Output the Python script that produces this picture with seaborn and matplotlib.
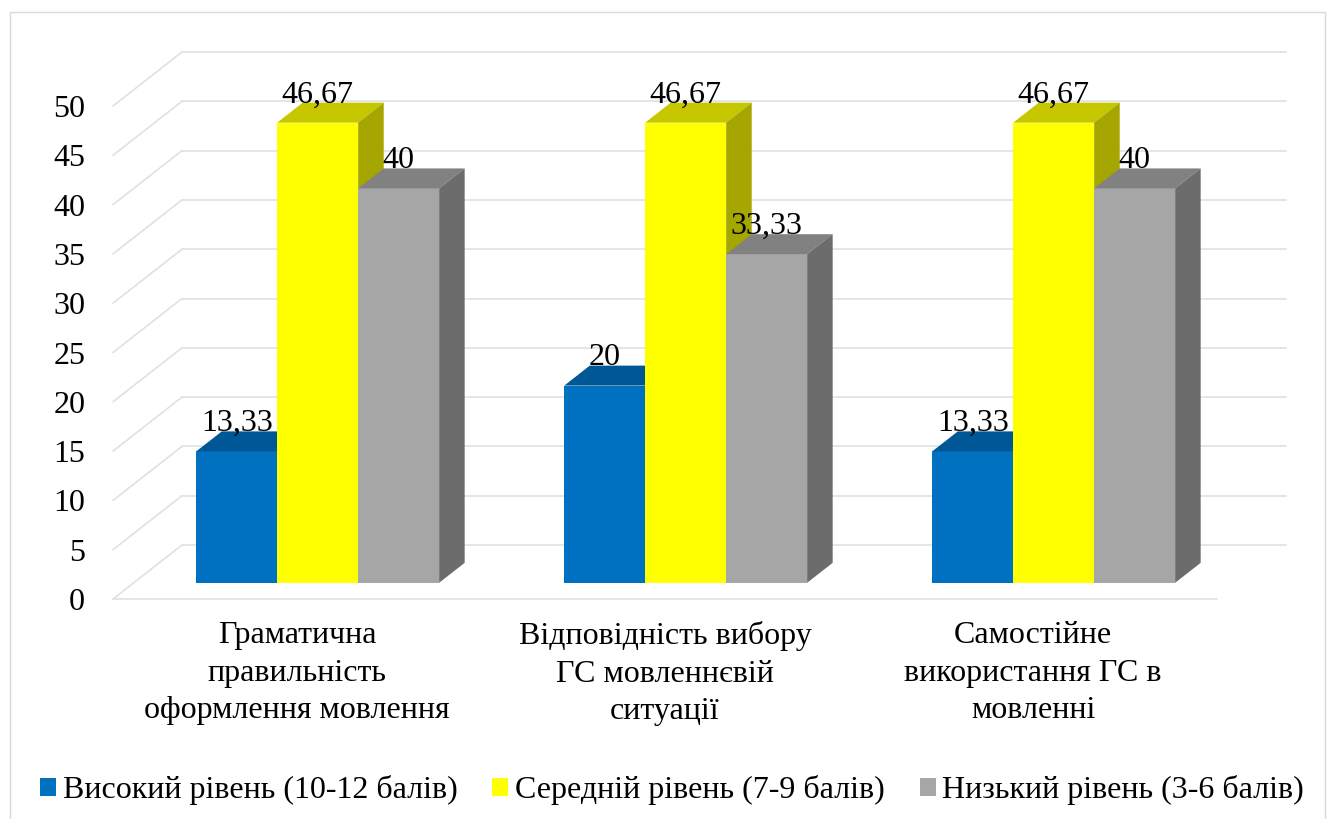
import numpy as np
import pandas as pd
import matplotlib
matplotlib.use('Agg')
import matplotlib.pyplot as plt
import seaborn as sns
from matplotlib.patches import Polygon, Rectangle
from matplotlib.colors import to_rgb

# chart data
categories = ['Граматична\nправильність\nоформлення мовлення',
              'Відповідність вибору\nГС мовленнєвій\nситуації',
              'Самостійне\nвикористання ГС в\nмовленні']
levels = ['Високий рівень (10-12 балів)', 'Середній рівень (7-9 балів)', 'Низький рівень (3-6 балів)']
high = [13.33, 20, 13.33]
mid = [46.67, 46.67, 46.67]
low = [40, 33.33, 40]
yticks = list(range(0, 55, 5))
colors = ['#0070C0', '#FFFF00', '#A6A6A6']

df = pd.DataFrame({
    'category': categories * 3,
    'level': np.repeat(levels, 3),
    'value': high + mid + low,
})

sns.set_theme(style='white')
plt.rcParams['font.family'] = ['Liberation Serif', 'DejaVu Serif']
plt.rcParams['text.color'] = 'black'
FS = 23
grid_c = '#dde1e8'

W, H = 1331, 819
fig = plt.figure(figsize=(W / 100, H / 100), dpi=100)
ax = fig.add_axes([113 / W, 220 / H, 1104 / W, 493 / H])

sns.barplot(data=df, x='category', y='value', hue='level', hue_order=levels,
            palette=colors, saturation=1, width=0.66, gap=0, linewidth=0,
            ax=ax, zorder=3)
ax.set_xlim(-0.5, 2.5)
ax.set_ylim(0, 50)

# pixel -> data conversion for the 3d depth
p0 = ax.transData.transform((0, 0))
p1 = ax.transData.transform((1, 1))
sx, sy = p1 - p0
DX, DY = 69 / sx, 54 / sy      # full depth of the floor
front_f, bar_f = 0.3, 0.37      # where the bars sit and how deep they are

# walls: left diagonals + back horizontal lines
for v in yticks:
    ax.plot([-0.5 + DX, 2.5 + DX], [v + DY, v + DY], color=grid_c, lw=1.2,
            clip_on=False, zorder=1)
    ax.plot([-0.5, -0.5 + DX], [v, v + DY], color=grid_c, lw=1.2,
            clip_on=False, zorder=1)
ax.plot([-0.5, 2.5], [0, 0], color=grid_c, lw=1.2, clip_on=False, zorder=1)

# turn flat bars into boxes (skip seaborn's empty placeholder patches)
bars = sorted([p for p in ax.patches if p.get_height() > 0 and p.get_width() > 0],
              key=lambda p: p.get_x())
bdx, bdy = bar_f * DX, bar_f * DY
for i, p in enumerate(bars):
    x0 = p.get_x() + front_f * DX
    y0 = front_f * DY
    h = p.get_height()
    w = p.get_width()
    p.set_xy((x0, y0))
    p.set_clip_on(False)
    z = 3 + i * 0.1
    p.set_zorder(z)
    x1, yt = x0 + w, y0 + h
    c = np.array(to_rgb(p.get_facecolor()))
    top = Polygon([(x0, yt), (x1, yt), (x1 + bdx, yt + bdy), (x0 + bdx, yt + bdy)],
                  closed=True, facecolor=c * 0.78, edgecolor='none', zorder=z + 0.01, clip_on=False)
    side = Polygon([(x1, y0), (x1, yt), (x1 + bdx, yt + bdy), (x1 + bdx, y0 + bdy)],
                   closed=True, facecolor=c * 0.65, edgecolor='none', zorder=z + 0.02, clip_on=False)
    ax.add_patch(top)
    ax.add_patch(side)
    lab = f'{h:g}'.replace('.', ',')
    ax.annotate(lab, (x0 + w / 2, yt), xytext=(0, 14.5), textcoords='offset points',
                ha='center', va='baseline', fontsize=FS, color='black', zorder=20,
                annotation_clip=False)

ax.set_yticks(yticks)
ax.set_yticklabels([str(t) for t in yticks])
ax.set_xticks([0, 1, 2])
ax.set_xticklabels(categories, multialignment='center', linespacing=1.38)
ax.tick_params(axis='y', length=0, pad=20, labelsize=FS, labelcolor='black')
ax.tick_params(axis='x', length=0, pad=16, labelsize=FS, labelcolor='black')
ax.set_xlabel('')
ax.set_ylabel('')
for s in ax.spines.values():
    s.set_visible(False)
ax.set_facecolor('none')

sns.move_legend(ax, loc='center', bbox_to_anchor=(672 / W, 29 / H),
                bbox_transform=fig.transFigure, ncol=3, frameon=False, title=None,
                fontsize=FS, handlelength=0.5, handleheight=0.5,
                handletextpad=0.2, columnspacing=1.1, borderaxespad=0,
                labelcolor='black')

fig.patches.append(Rectangle((10 / W, -0.02), 1315 / W, 1 - 12 / H + 0.02,
                             transform=fig.transFigure, fill=False,
                             edgecolor='#d9d9d9', lw=1))

fig.savefig('out.png', dpi=100, facecolor='white')
